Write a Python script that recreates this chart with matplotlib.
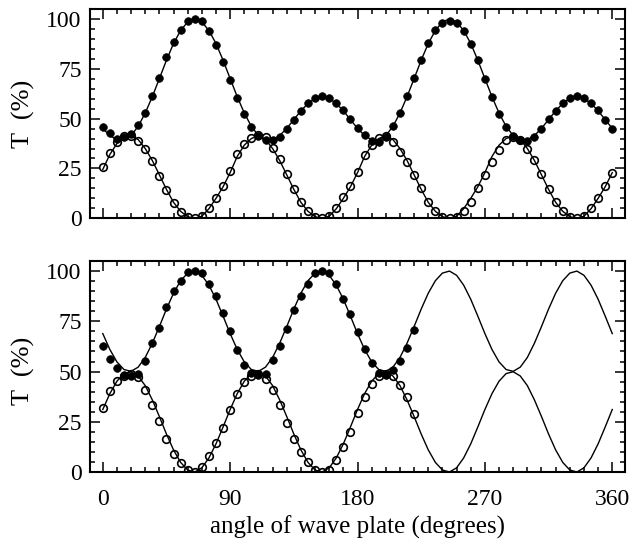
import matplotlib
matplotlib.use('Agg')
import matplotlib.pyplot as plt
from matplotlib.ticker import MultipleLocator
import numpy as np

plt.rcParams['font.family'] = 'Liberation Serif'

angle = np.arange(0, 365, 5)           # fitted curves, 0..360 deg
angle_meas_top = np.arange(0, 365, 5)  # measured points, upper panel
angle_meas_bot = np.arange(0, 225, 5)  # measured points, lower panel

# upper panel: fitted transmission (%)
fit_top_full = [45.1, 41.5, 39.4, 39.3, 41.5, 46.1, 52.8, 61.0, 70.1, 79.3, 87.7, 94.2, 98.5,
                100.0, 98.5, 94.2, 87.7, 79.3, 70.1, 61.0, 52.8, 46.1, 41.5, 39.3, 39.4, 41.5,
                45.1, 49.5, 53.9, 57.6, 60.1, 61.0, 60.1, 57.6, 53.9, 49.5, 45.1, 41.5, 39.4,
                39.3, 41.5, 46.1, 52.8, 61.0, 70.1, 79.3, 87.7, 94.2, 98.5, 100.0, 98.5, 94.2,
                87.7, 79.3, 70.1, 61.0, 52.8, 46.1, 41.5, 39.3, 39.4, 41.5, 45.1, 49.5, 53.9,
                57.6, 60.1, 61.0, 60.1, 57.6, 53.9, 49.5, 45.1]
fit_top_open = [24.5, 32.0, 37.5, 40.8, 41.5, 39.5, 35.0, 29.0, 21.8, 14.5, 8.0, 3.5, 0.8,
                0.0, 1.0, 4.8, 10.0, 15.8, 22.9, 31.0, 36.7, 40.0, 41.5, 39.5, 35.0, 29.0,
                21.8, 14.5, 8.0, 3.5, 0.8,
                0.0, 1.0, 4.8, 10.0, 15.8, 22.9, 31.0, 36.7, 40.0, 41.5, 39.5, 35.0, 29.0,
                21.8, 14.5, 8.0, 3.5, 0.8,
                0.0, 1.0, 4.8, 10.0, 15.8, 22.9, 31.0, 36.7, 40.0, 41.5, 39.5, 35.0, 29.0,
                21.8, 14.5, 8.0, 3.5, 0.8,
                0.0, 1.0, 4.8, 10.0, 15.8, 22.9]

# upper panel: measured transmission (%)
meas_top_full = [45.7, 42.6, 39.6, 40.9, 42.3, 46.8, 52.7, 61.5, 70.5, 80.8, 88.5, 94.5, 99.0,
                 100.0, 98.8, 94.0, 87.0, 78.5, 69.5, 60.5, 52.5, 46.0, 41.5, 39.5, 39.2, 41.0,
                 44.8, 49.2, 54.0, 57.8, 60.2, 61.3, 60.5, 58.0, 54.2, 50.0, 45.5, 41.8, 39.0,
                 38.5, 41.0, 46.5, 53.0, 61.5, 70.5, 79.5, 88.0, 94.5, 98.0, 98.8, 98.0, 94.0,
                 87.5, 79.5, 70.0, 61.0, 52.5, 46.0, 41.5, 39.5, 39.0, 40.8, 45.0, 49.8, 54.0,
                 58.0, 60.5, 61.2, 60.5, 58.0, 54.5, 49.5, 45.0]
meas_top_open = [25.9, 32.9, 38.1, 41.3, 41.3, 38.9, 34.6, 28.8, 21.2, 14.2, 7.8, 3.3, 0.5,
                 0.0, 1.2, 5.0, 10.0, 16.2, 23.7, 32.1, 37.1, 40.1, 41.8, 40.9, 35.5, 29.5,
                 22.0, 14.8, 8.0, 3.8, 0.8,
                 0.0, 1.0, 5.0, 10.5, 16.0, 23.0, 31.5, 37.0, 40.5, 41.5, 38.4, 33.4, 28.4,
                 21.7, 15.0, 8.3, 3.8, 0.8,
                 0.0, 0.8, 3.8, 8.3, 15.0, 21.7, 28.4, 34.3, 39.3, 41.0, 39.5, 35.0, 29.0,
                 22.0, 14.5, 8.0, 3.5, 0.8,
                 0.0, 1.2, 5.0, 10.0, 16.0, 22.9]

# lower panel: fitted transmission (%)
fit_bot_full = [68.9, 61.0, 54.8, 51.0, 50.1, 52.2, 57.0, 64.1, 72.4, 81.1, 89.0, 95.2, 99.0,
                100.0, 97.9, 93.0, 86.0, 77.6,
                68.9, 61.0, 54.8, 51.0, 50.1, 52.2, 57.0, 64.1, 72.4, 81.1, 89.0, 95.2, 99.0,
                100.0, 97.9, 93.0, 86.0, 77.6,
                68.9, 61.0, 54.8, 51.0, 50.1, 52.2, 57.0, 64.1, 72.4, 81.1, 89.0, 95.2, 99.0,
                100.0, 97.9, 93.0, 86.0, 77.6,
                68.9, 61.0, 54.8, 51.0, 50.1, 52.2, 57.0, 64.1, 72.4, 81.1, 89.0, 95.2, 99.0,
                100.0, 97.9, 93.0, 86.0, 77.6,
                68.9]
fit_bot_open = [31.1, 39.0, 45.2, 49.0, 49.9, 47.8, 43.0, 35.9, 27.6, 18.9, 11.0, 4.8, 1.0,
                0.0, 2.1, 7.0, 14.0, 22.4,
                31.1, 39.0, 45.2, 49.0, 49.9, 47.8, 43.0, 35.9, 27.6, 18.9, 11.0, 4.8, 1.0,
                0.0, 2.1, 7.0, 14.0, 22.4,
                31.1, 39.0, 45.2, 49.0, 49.9, 47.8, 43.0, 35.9, 27.6, 18.9, 11.0, 4.8, 1.0,
                0.0, 2.1, 7.0, 14.0, 22.4,
                31.1, 39.0, 45.2, 49.0, 49.9, 47.8, 43.0, 35.9, 27.6, 18.9, 11.0, 4.8, 1.0,
                0.0, 2.1, 7.0, 14.0, 22.4,
                31.1]

# lower panel: measured transmission (%)
meas_bot_full = [62.9, 56.4, 51.8, 48.4, 48.0, 49.0, 55.4, 64.3, 71.7, 82.2, 90.0, 95.0, 99.5,
                 100.0, 98.8, 93.4, 87.5, 79.2, 70.4, 60.6, 53.4, 49.5, 48.5, 48.8, 55.5, 62.5,
                 71.0, 80.5, 87.5, 93.4, 98.8, 100.0, 98.8, 93.4, 85.9, 78.4, 69.5, 61.3, 54.3,
                 49.5, 48.5, 50.9, 55.1, 61.8, 70.5]
meas_bot_open = [31.8, 40.1, 45.1, 47.9, 49.0, 47.5, 40.9, 33.4, 25.6, 16.3, 9.0, 4.3, 0.8,
                 0.0, 2.6, 8.0, 14.3, 21.8, 31.0, 38.9, 44.6, 47.6, 49.0, 46.5, 41.0, 33.5,
                 24.5, 16.5, 10.0, 5.0, 1.2, 0.0, 0.8, 6.0, 12.6, 20.1, 29.6, 37.1, 43.8,
                 47.6, 49.0, 47.6, 43.4, 37.3, 28.8]

fig = plt.figure(figsize=(6.34, 5.41), dpi=100)
ax1 = fig.add_axes([0.142, 0.5965, 0.8438, 0.3869])
ax2 = fig.add_axes([0.142, 0.1275, 0.8438, 0.39])

panels = [
    (ax1, fit_top_full, fit_top_open, angle_meas_top, meas_top_full, meas_top_open),
    (ax2, fit_bot_full, fit_bot_open, angle_meas_bot, meas_bot_full, meas_bot_open),
]

for ax, fit_full, fit_open, ang, m_full, m_open in panels:
    ax.plot(angle, fit_full, color='black', lw=1.0)
    ax.plot(angle, fit_open, color='black', lw=1.0)
    ax.plot(ang, m_open, 'o', ms=5.5, mfc='none', mec='black', mew=1.2)
    ax.plot(ang, m_full, 'o', ms=5.5, mfc='black', mec='black', mew=0.5)

    ax.set_xlim(-9, 369)
    ax.set_ylim(0, 105)
    ax.xaxis.set_major_locator(MultipleLocator(90))
    ax.xaxis.set_minor_locator(MultipleLocator(10))
    ax.yaxis.set_major_locator(MultipleLocator(25))
    ax.yaxis.set_minor_locator(MultipleLocator(5))
    ax.tick_params(which='both', direction='in', top=True, right=True, width=1.1,
                   labelsize=17)
    ax.tick_params(which='major', length=7.5)
    ax.tick_params(which='minor', length=3.8)
    ax.tick_params(axis='y', pad=6)
    ax.tick_params(axis='x', pad=12)
    for s in ax.spines.values():
        s.set_linewidth(1.5)
    ax.set_ylabel('T  (%)', fontsize=19)
    # lift the "0" label off the bottom frame
    ax.yaxis.get_major_ticks()[0].label1.set_va('bottom')

ax1.tick_params(axis='x', labelbottom=False)
ax1.yaxis.set_label_coords(-0.102, 0.5)
ax2.yaxis.set_label_coords(-0.102, 0.48)
ax2.set_xlabel('angle of wave plate (degrees)', fontsize=18, va='center')
ax2.xaxis.set_label_coords(0.5, -0.26)

fig.savefig('out.png', dpi=100)
